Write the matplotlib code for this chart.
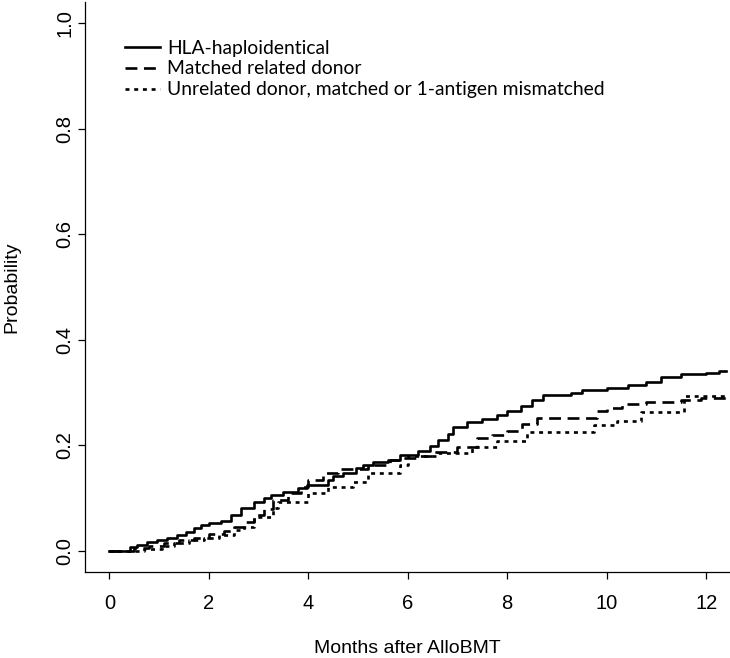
import matplotlib
matplotlib.use("Agg")
import matplotlib.pyplot as plt

# step curves (time in months, cumulative probability)
haplo_t = [0, 0.42, 0.55, 0.75, 0.95, 1.15, 1.35, 1.55, 1.7, 1.85, 2.0, 2.25, 2.45,
           2.65, 2.9, 3.1, 3.25, 3.5, 3.8, 3.98, 4.4, 4.5, 4.7, 4.95, 5.1, 5.3, 5.6,
           5.85, 6.2, 6.45, 6.6, 6.8, 6.9, 7.2, 7.5, 7.8, 8.0, 8.28, 8.5, 8.72, 9.29,
           9.5, 10.0, 10.43, 10.8, 11.1, 11.5, 12.0, 12.25, 12.4]
haplo_p = [0, 0.008, 0.012, 0.016, 0.02, 0.025, 0.03, 0.035, 0.043, 0.05, 0.052, 0.057,
           0.068, 0.081, 0.093, 0.1, 0.106, 0.112, 0.119, 0.125, 0.134, 0.142, 0.148,
           0.157, 0.163, 0.168, 0.172, 0.182, 0.19, 0.198, 0.21, 0.222, 0.235, 0.245,
           0.25, 0.258, 0.265, 0.275, 0.285, 0.295, 0.3, 0.305, 0.309, 0.314, 0.32,
           0.33, 0.336, 0.338, 0.341, 0.341]

mrd_t = [0, 0.5, 0.8, 1.1, 1.4, 1.7, 2.0, 2.3, 2.5, 2.7, 2.9, 3.1, 3.3, 3.6, 3.85,
         4.0, 4.3, 4.6, 5.2, 5.65, 5.9, 6.2, 6.5, 7.0, 7.4, 7.7, 8.0, 8.3, 8.6, 9.8,
         10.0, 10.3, 10.8, 11.5, 11.9, 12.4]
mrd_p = [0, 0.006, 0.01, 0.015, 0.02, 0.025, 0.032, 0.038, 0.045, 0.055, 0.068, 0.08,
         0.097, 0.11, 0.122, 0.134, 0.148, 0.155, 0.163, 0.172, 0.176, 0.179, 0.188,
         0.196, 0.214, 0.22, 0.227, 0.24, 0.252, 0.266, 0.27, 0.278, 0.282, 0.285,
         0.289, 0.289]

urd_t = [0, 0.7, 1.05, 1.3, 1.6, 1.9, 2.2, 2.5, 2.7, 2.9, 3.3, 3.4, 4.0, 4.4, 4.9,
         5.2, 5.85, 6.0, 6.6, 7.3, 7.8, 8.4, 9.75, 10.2, 10.7, 11.55, 12.4]
urd_p = [0, 0.004, 0.01, 0.015, 0.02, 0.025, 0.03, 0.04, 0.046, 0.065, 0.081, 0.093,
         0.11, 0.122, 0.131, 0.148, 0.163, 0.179, 0.186, 0.197, 0.209, 0.225, 0.239,
         0.247, 0.263, 0.293, 0.293]

labels = ["HLA-haploidentical", "Matched related donor",
          "Unrelated donor, matched or 1-antigen mismatched"]
x_ticks = [0, 2, 4, 6, 8, 10, 12]
y_ticks = [0.0, 0.2, 0.4, 0.6, 0.8, 1.0]

plt.rcParams["font.family"] = ["Liberation Sans", "DejaVu Sans"]

fig = plt.figure(figsize=(7.3, 6.58), dpi=100)
ax = fig.add_axes([85 / 730, 86 / 658, 1 - 85 / 730, 570 / 658])

lw = 1.9
ax.step(haplo_t, haplo_p, where="post", color="black", lw=lw, label=labels[0])
ax.step(mrd_t, mrd_p, where="post", color="black", lw=lw,
        linestyle=(0, (4.5, 2.5)), label=labels[1])
ax.step(urd_t, urd_p, where="post", color="black", lw=lw,
        linestyle=(0, (1.5, 1.8)), label=labels[2])

ax.set_xlim(-0.49, 12.48)
ax.set_ylim(-0.04, 1.04)
ax.set_xticks(x_ticks)
ax.set_xticklabels([str(v) for v in x_ticks])
ax.set_yticks(y_ticks)
ax.set_yticklabels([f"{v:.1f}" for v in y_ticks], rotation=90, va="center")
ax.tick_params(length=5, width=0.9, labelsize=14.5)
ax.tick_params(axis="x", pad=11)
ax.tick_params(axis="y", pad=2.5)

for s in ("top", "right"):
    ax.spines[s].set_visible(False)
for s in ("left", "bottom"):
    ax.spines[s].set_linewidth(0.9)

ax.set_xlabel("Months after AlloBMT", fontsize=14, labelpad=19)
ax.set_ylabel("Probability", fontsize=14, labelpad=25)

ax.legend(loc="upper left", bbox_to_anchor=(0.062, 0.934), frameon=False,
          prop={"family": "Lato", "size": 13.9}, handlelength=1.8,
          handletextpad=0.38, labelspacing=0.2, borderaxespad=0, borderpad=0)

fig.savefig("out.png", dpi=100)
